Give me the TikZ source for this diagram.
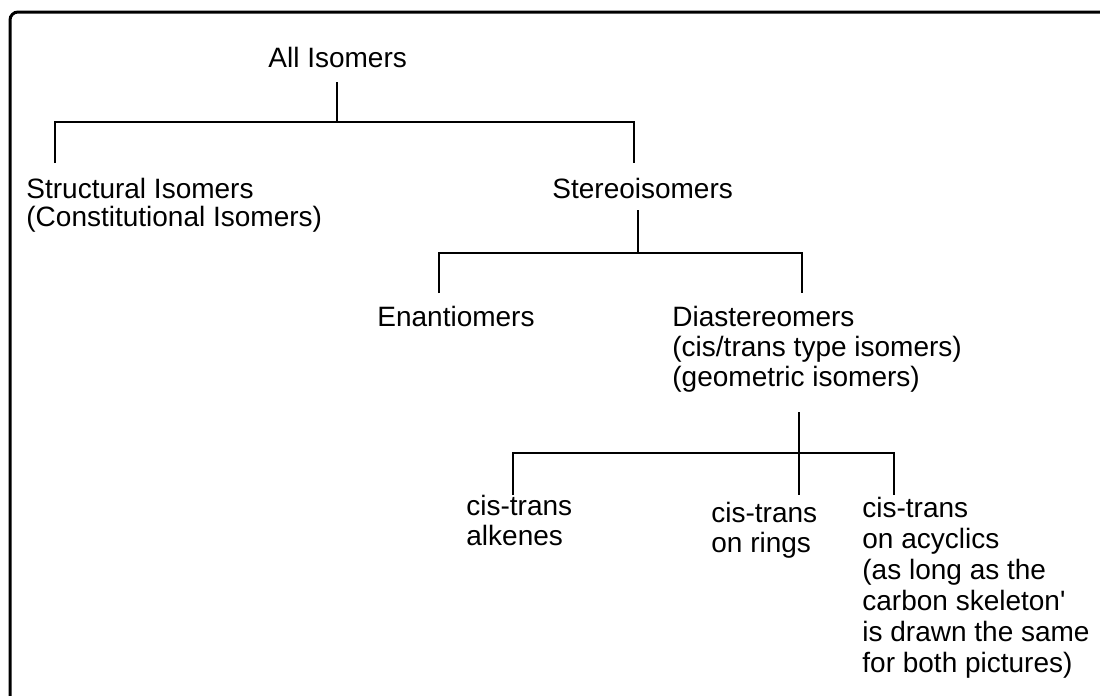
\documentclass[tikz,border=0pt]{standalone}
\usepackage{fontspec}
\setmainfont{Liberation Sans}
\begin{document}
\begin{tikzpicture}[x=0.5pt,y=-0.5pt,
  lbl/.style={anchor=base west, inner sep=0pt, align=left, font=\fontsize{14}{14}\selectfont},
  lblb/.style={lbl, font=\fontsize{14}{15}\selectfont},
  lblc/.style={lbl, font=\fontsize{14}{15.5}\selectfont},
  conn/.style={line width=1.25pt},
  frame/.style={line width=1.5pt, rounded corners=4pt}]
\useasboundingbox (0,0) rectangle (1100,696);
\draw[frame] (10,12) rectangle (1108,703);
% labels (anchored at the baseline of their last line)
\node[lbl] (all) at (268,68) {All Isomers};
\node[lbl] (struct) at (26,226) {Structural Isomers\\(Constitutional Isomers)};
\node[lbl] (stereo) at (552,198) {Stereoisomers};
\node[lbl] (enan) at (377,326) {Enantiomers};
\node[lblb] (dia) at (672,386) {Diastereomers\\(cis/trans type isomers)\\(geometric isomers)};
\node[lblb] (alk) at (466,545) {cis-trans\\alkenes};
\node[lblb] (ring) at (711,552) {cis-trans\\on rings};
\node[lblc] (acyc) at (862,672) {cis-trans\\on acyclics\\(as long as the\\carbon skeleton\textquotesingle\\is drawn the same\\for both pictures)};
% connector points
\coordinate (a0) at (337,82);
\coordinate (a1) at (337,122);
\coordinate (s0) at (55,163);
\coordinate (st0) at (634,163);
\coordinate (b0) at (638,210);
\coordinate (b1) at (638,253);
\coordinate (e0) at (439,293);
\coordinate (d0) at (802,293);
\coordinate (c0) at (799,412);
\coordinate (c1) at (799,453);
\coordinate (k0) at (513,495);
\coordinate (r0) at (799,495);
\coordinate (y0) at (894,495);
% connectors
\draw[conn] (a0) -- (a1);
\draw[conn] (s0) |- (a1) -| (st0);
\draw[conn] (b0) -- (b1);
\draw[conn] (e0) |- (b1) -| (d0);
\draw[conn] (c0) -- (r0);
\draw[conn] (k0) |- (c1) -| (y0);
\end{tikzpicture}
\end{document}
